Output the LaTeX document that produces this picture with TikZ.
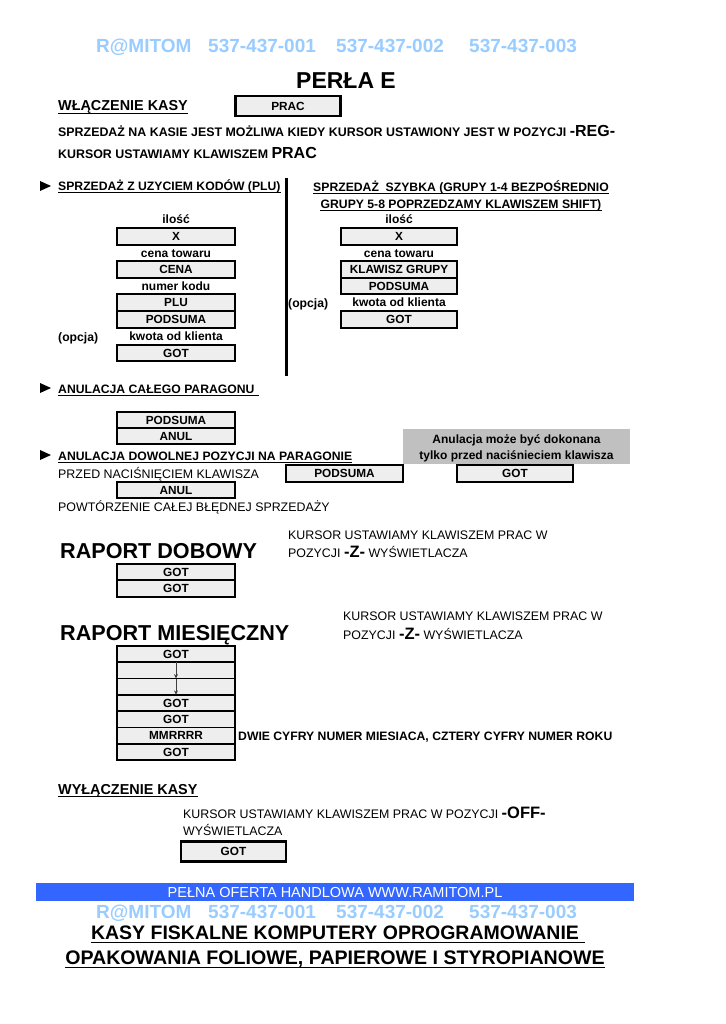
\documentclass[tikz,border=0pt]{standalone}
\usepackage{fontspec}
\setmainfont{Liberation Sans}
\usetikzlibrary{arrows.meta}
\definecolor{lblue}{HTML}{99CCFF}
\definecolor{barblue}{HTML}{3366FF}
\definecolor{notegray}{HTML}{C0C0C0}
\definecolor{keyfill}{HTML}{EEEEEE}
\newcommand{\fsz}[1]{\fontsize{#1}{#1}\selectfont}
\begin{document}
\begin{tikzpicture}[x=1pt,y=-1pt,
  key/.style={draw, line width=1.6pt, fill=keyfill, inner sep=0pt, minimum height=16.5pt, minimum width=118pt, font=\bfseries\fsz{11.8}},
  bigkey/.style={key, line width=2.4pt, minimum height=20pt, minimum width=105pt},
  lab/.style={inner sep=0pt, anchor=base, font=\bfseries\fsz{12}},
  txt/.style={inner sep=0pt, anchor=base west, font=\fsz{12.4}},
  btxt/.style={inner sep=0pt, anchor=base west, font=\bfseries\fsz{12.2}},
  phone/.style={inner sep=0pt, anchor=base west, font=\bfseries\fsz{19}, text=lblue},
  ulline/.style={line width=1.1pt},
  bullet/.style={fill=black},
  flow/.style={black!75, line width=1pt, -{Stealth[length=4.5pt,width=4pt]}}
]
\useasboundingbox (0,0) rectangle (725,1024);
\fill[white] (0,0) rectangle (725,1024);

% header
\node[phone] (h1) at (96,52.8) {R@MITOM};
\node[phone] (h2) at (208,52.8) {537-437-001};
\node[phone] (h3) at (336,52.8) {537-437-002};
\node[phone] (h4) at (469,52.8) {537-437-003};
\node[inner sep=0pt, anchor=base, font=\bfseries\fsz{23}] (title) at (346,89) {PERŁA E};

% włączenie
\node[btxt, font=\bfseries\fsz{14.4}] (wl) at (58,111) {WŁĄCZENIE KASY};
\draw[ulline] ([yshift=-2.6pt]wl.base west) -- ([yshift=-2.6pt]wl.base east);
\node[bigkey] (prac) at (288,106) {PRAC};
\node[btxt, font=\bfseries\fsz{12.4}] (l1) at (58,136.5) {SPRZEDAŻ NA KASIE JEST MOŻLIWA KIEDY KURSOR USTAWIONY JEST W POZYCJI {\fsz{16}-REG-}};
\node[btxt, font=\bfseries\fsz{12.4}] (l2) at (58,158.5) {KURSOR USTAWIAMY KLAWISZEM {\fsz{16}PRAC}};

% sprzedaż PLU
\fill[bullet] (40,181) -- (51,186) -- (40,191) -- cycle;
\node[btxt] (hplu) at (58,190.5) {SPRZEDAŻ Z UZYCIEM KODÓW (PLU)};
\draw[ulline] ([yshift=-2.4pt]hplu.base west) -- ([yshift=-2.4pt]hplu.base east);
\draw[line width=3pt] (286,178) -- (286,376);
\node[lab, font=\bfseries\fsz{12.2}] (hs1) at (461,191.5) {SPRZEDAŻ\ \ SZYBKA (GRUPY 1-4 BEZPOŚREDNIO};
\draw[ulline] ([yshift=-2.4pt]hs1.base west) -- ([yshift=-2.4pt]hs1.base east);
\node[lab, font=\bfseries\fsz{12.2}] (hs2) at (461,208.5) {GRUPY 5-8 POPRZEDZAMY KLAWISZEM SHIFT)};
\draw[ulline] ([yshift=-2.4pt]hs2.base west) -- ([yshift=-2.4pt]hs2.base east);

\node[lab] (a1) at (176,223.3) {ilość};
\node[key] (ax) at (176,236.5) {X};
\node[lab] (a2) at (176,257.3) {cena towaru};
\node[key] (acena) at (176,269.5) {CENA};
\node[lab] (a3) at (176,290.3) {numer kodu};
\node[key] (aplu) at (176,302.5) {PLU};
\node[key] (apod) at (176,319.5) {PODSUMA};
\node[lab] (a4) at (176,340.3) {kwota od klienta};
\node[btxt] (aop) at (58,341.3) {(opcja)};
\node[key] (agot) at (176,353) {GOT};

\node[lab] (b1) at (399,223.3) {ilość};
\node[key, minimum width=116pt] (bx) at (399,236.5) {X};
\node[lab] (b2) at (399,257.3) {cena towaru};
\node[key, minimum width=116pt] (bkl) at (399,269.5) {KLAWISZ GRUPY};
\node[key, minimum width=116pt] (bpod) at (399,286) {PODSUMA};
\node[lab] (b4) at (399,306.3) {kwota od klienta};
\node[btxt] (bop) at (288,307.3) {(opcja)};
\node[key, minimum width=116pt] (bgot) at (399,319.5) {GOT};

% anulacja
\fill[bullet] (40,383) -- (51,388) -- (40,393) -- cycle;
\node[btxt] (han) at (58,393) {ANULACJA CAŁEGO PARAGONU};
\draw[ulline] ([yshift=-2.4pt]han.base west) -- ([yshift=-2.4pt,xshift=4pt]han.base east);
\node[key] (cpod) at (176,420) {PODSUMA};
\node[key] (canul) at (176,436) {ANUL};

\node[fill=notegray, minimum width=227pt, minimum height=35pt, inner sep=0pt] (note) at (516.5,446.5) {};
\node[lab] (n1) at (516.5,443.3) {Anulacja może być dokonana};
\node[lab] (n2) at (516.5,459.3) {tylko przed naciśnieciem klawisza};

\fill[bullet] (40,450) -- (51,455) -- (40,460) -- cycle;
\node[btxt] (hdow) at (58,460) {ANULACJA DOWOLNEJ POZYCJI NA PARAGONIE};
\draw[ulline] ([yshift=-2.4pt]hdow.base west) -- ([yshift=-2.4pt]hdow.base east);
\node[txt] (przed) at (58,478.3) {PRZED NACIŚNIĘCIEM KLAWISZA};
\node[key, minimum width=117pt] (dpod) at (344.5,473.5) {PODSUMA};
\node[key, minimum width=116pt] (dgot) at (515,473.5) {GOT};
\node[key] (danul) at (176,490) {ANUL};
\node[txt] (powt) at (58,511.3) {POWTÓRZENIE CAŁEJ BŁĘDNEJ SPRZEDAŻY};

% raport dobowy
\node[txt] (k1) at (288,539.3) {KURSOR USTAWIAMY KLAWISZEM PRAC W};
\node[btxt, font=\bfseries\fsz{21.6}] (rd) at (60,558.5) {RAPORT DOBOWY};
\node[txt] (k2) at (288,557.3) {POZYCJI {\bfseries\fsz{16.5}-Z-} WYŚWIETLACZA};
\node[key] (rd1) at (176,572) {GOT};
\node[key] (rd2) at (176,588.5) {GOT};

% raport miesięczny
\node[txt] (m1) at (343,620.3) {KURSOR USTAWIAMY KLAWISZEM PRAC W};
\node[btxt, font=\bfseries\fsz{21.6}] (rm) at (60,640.5) {RAPORT MIESIĘCZNY};
\node[txt] (m2) at (343,639.3) {POZYCJI {\bfseries\fsz{16.5}-Z-} WYŚWIETLACZA};
\node[key] (r1) at (176,654.2) {GOT};
\node[key] (r2) at (176,670.5) {};
\node[key] (r3) at (176,686.8) {};
\node[key] (r4) at (176,703.1) {GOT};
\node[key] (r5) at (176,719.4) {GOT};
\node[key] (r6) at (176,735.7) {MMRRRR};
\node[key] (r7) at (176,752) {GOT};
\draw[flow] ([yshift=-1pt]r2.north) -- ([yshift=1pt]r2.south);
\draw[flow] ([yshift=-1pt]r3.north) -- ([yshift=1pt]r3.south);
\node[btxt] (dwie) at (238,740.3) {DWIE CYFRY NUMER MIESIACA, CZTERY CYFRY NUMER ROKU};

% wyłączenie
\node[btxt, font=\bfseries\fsz{14.4}] (wyl) at (58,794) {WYŁĄCZENIE KASY};
\draw[ulline] ([yshift=-2.6pt]wyl.base west) -- ([yshift=-2.6pt]wyl.base east);
\node[txt] (o1) at (183,818.3) {KURSOR USTAWIAMY KLAWISZEM PRAC W POZYCJI {\bfseries\fsz{16.5}-OFF-}};
\node[txt] (o2) at (183,835.3) {WYŚWIETLACZA};
\node[bigkey] (ogot) at (233.5,851.5) {GOT};

% footer
\node[fill=barblue, minimum width=598pt, minimum height=18pt, inner sep=0pt, text=white, font=\fsz{14.5}] (bar) at (335,892) {PEŁNA OFERTA HANDLOWA WWW.RAMITOM.PL};
\node[phone] (f1) at (96,918.8) {R@MITOM};
\node[phone] (f2) at (208,918.8) {537-437-001};
\node[phone] (f3) at (336,918.8) {537-437-002};
\node[phone] (f4) at (469,918.8) {537-437-003};
\node[inner sep=0pt, anchor=base, font=\bfseries\fsz{19.5}] (k1f) at (335,939.5) {KASY FISKALNE KOMPUTERY OPROGRAMOWANIE};
\draw[ulline, line width=1.4pt] ([yshift=-3pt]k1f.base west) -- ([yshift=-3pt,xshift=6pt]k1f.base east);
\node[inner sep=0pt, anchor=base, font=\bfseries\fsz{19.6}] (k2f) at (335,964.5) {OPAKOWANIA FOLIOWE, PAPIEROWE I STYROPIANOWE};
\draw[ulline, line width=1.4pt] ([yshift=-3pt]k2f.base west) -- ([yshift=-3pt]k2f.base east);
\end{tikzpicture}
\end{document}
